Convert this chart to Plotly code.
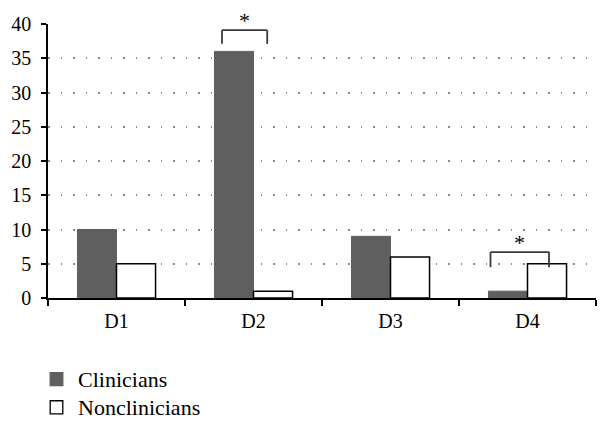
import plotly.graph_objects as go

categories = ["D1", "D2", "D3", "D4"]
clinicians = [10, 36, 9, 1]
nonclinicians = [5, 1, 6, 5]
y_ticks = [0, 5, 10, 15, 20, 25, 30, 35, 40]
series_names = ["Clinicians", "Nonclinicians"]

# significance brackets: (category index, left offset, right offset, top y, leg y)
sig_brackets = [
    (1, -0.23, 0.10, 39.1, 37.1),
    (3, -0.27, 0.157, 6.7, 4.5),
]

FONT = "Liberation Serif, DejaVu Serif, serif"
GREY = "#5f5f5f"

fig = go.Figure()
fig.add_trace(go.Bar(
    x=categories, y=clinicians, name=series_names[0],
    marker=dict(color=GREY, line=dict(color=GREY, width=1)),
))
fig.add_trace(go.Bar(
    x=categories, y=nonclinicians, name=series_names[1],
    marker=dict(color="white", line=dict(color="black", width=1.5)),
))

for ci, lo, hi, top, leg in sig_brackets:
    for (x0, y0, x1, y1) in [(ci + lo, leg, ci + lo, top), (ci + lo, top, ci + hi, top), (ci + hi, top, ci + hi, leg)]:
        fig.add_shape(type="line", xref="x", yref="y", x0=x0, y0=y0, x1=x1, y1=y1,
                      line=dict(color="#3a3a3a", width=1.8))
    fig.add_annotation(x=ci + (lo + hi) / 2, y=top, xref="x", yref="y", text="*",
                       yanchor="bottom", yshift=-5, showarrow=False,
                       font=dict(family=FONT, size=22, color="black"))

# manual legend below the plot (paper coordinates)
legend_items = [
    (series_names[0], GREY, GREY, -0.272, -0.320, -0.297),
    (series_names[1], "white", "black", -0.375, -0.423, -0.399),
]
for name, fill, edge, ytop, ybot, ytext in legend_items:
    fig.add_shape(type="rect", xref="paper", yref="paper",
                  x0=0.004, x1=0.027, y0=ybot, y1=ytop,
                  fillcolor=fill, line=dict(color=edge, width=1.3))
    fig.add_annotation(x=0.051, y=ytext, xref="paper", yref="paper", text=name,
                       xanchor="left", yanchor="middle", showarrow=False,
                       font=dict(family=FONT, size=22, color="black"))

fig.update_layout(
    width=608, height=428,
    margin=dict(l=48, r=12, t=24, b=130),
    paper_bgcolor="white", plot_bgcolor="white",
    barmode="group", bargap=0.43, bargroupgap=0,
    font=dict(family=FONT, size=20, color="black"),
    showlegend=False,
    xaxis=dict(showline=True, linecolor="black", linewidth=1.5, automargin=False,
               ticks="outside", tickson="boundaries", ticklen=6, tickcolor="black",
               tickwidth=1.5, showgrid=False, ticklabelstandoff=4,
               tickfont=dict(family=FONT, size=20)),
    yaxis=dict(range=[0, 40], tickvals=y_ticks, showline=True, linecolor="black",
               linewidth=1.5, ticks="outside", ticklen=5, tickcolor="black", tickwidth=1.5,
               automargin=False, ticklabelstandoff=6,
               showgrid=True, gridcolor="#8a8a8a", griddash="1.5px,11px", gridwidth=1.5,
               zeroline=False, tickfont=dict(family=FONT, size=20)),
)

fig.write_html("out.html", config={"displayModeBar": False},
               post_script="document.body.style.margin='0';")
